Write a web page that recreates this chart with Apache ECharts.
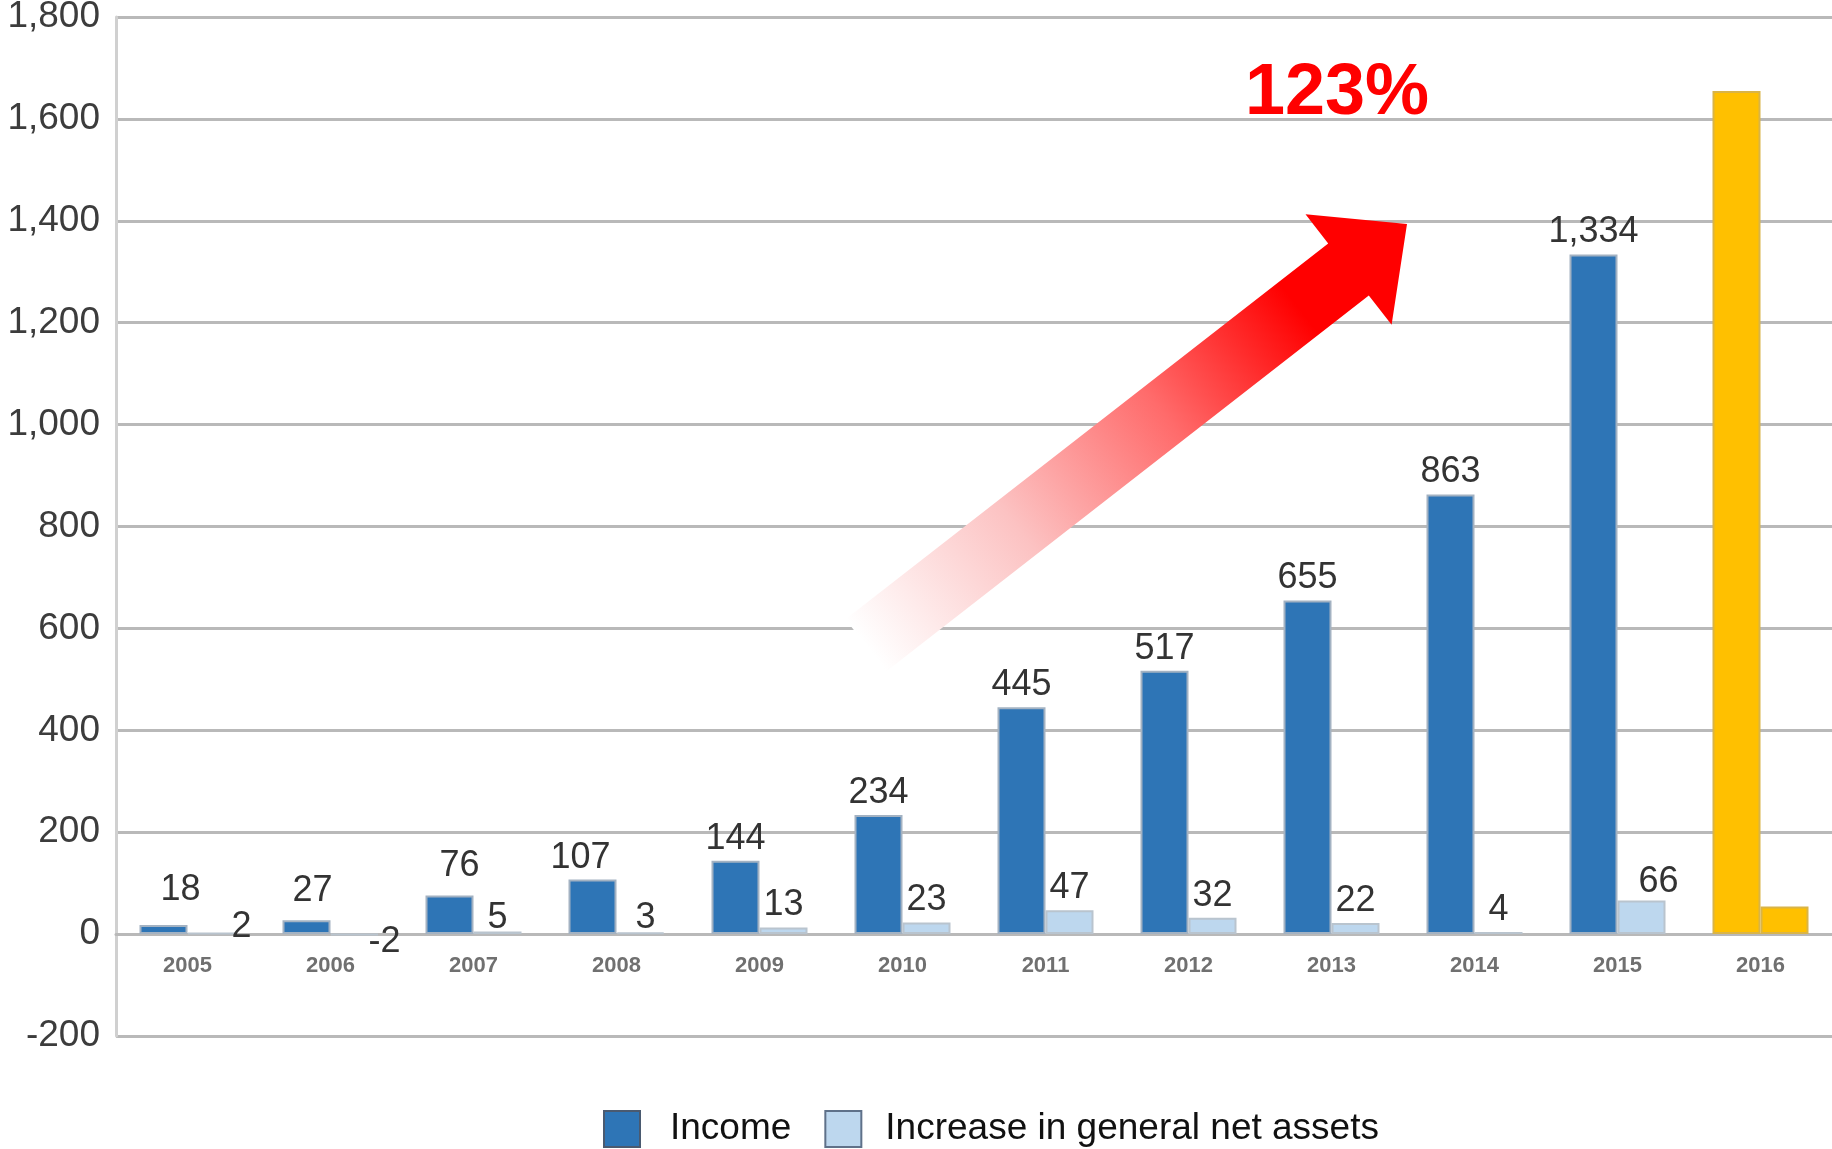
<!DOCTYPE html>
<html>
<head>
<meta charset="utf-8">
<script src="https://cdn.jsdelivr.net/npm/echarts@6/dist/echarts.min.js"></script>
<style>
  html, body { margin: 0; padding: 0; background: #ffffff; }
  #chart { width: 1832px; height: 1149px; }
</style>
</head>
<body>
<div id="chart"></div>
<script>
// ---- data ----
var years = ['2005', '2006', '2007', '2008', '2009', '2010', '2011', '2012', '2013', '2014', '2015', '2016'];
var income = [18, 27, 76, 107, 144, 234, 445, 517, 655, 863, 1334, 1655];
var increase = [2, -2, 5, 3, 13, 23, 47, 32, 22, 4, 66, 54];
var seriesNames = ['Income', 'Increase in general net assets'];
var yTicks = { min: -200, max: 1800, step: 200 };
var growthText = '123%';
var highlightYear = '2016';

// ---- styles / layout ----
var FONT = "'Liberation Sans', Arial, Helvetica, sans-serif";
var BLUE = '#2e75b6', LIGHT = '#bdd7ee', YELLOW = '#ffc000';
var GRID_COLOR = '#b9b9b9';
var GRID = { left: 116, right: 0, top: 17, bottom: 113 };
var CHART_H = 1149;
// hand-placed label nudges [dx, dy] in pixels (style only)
var incomeNudge = { 0: [17, -13], 1: [6, -7], 2: [10, -7], 3: [-12, 0] };
var increaseNudge = { 0: [30, 16], 2: [0, 9], 3: [5, 8], 10: [17, 4] };

function fmt(v) { return echarts.format.addCommas(v); }

var hiIdx = years.indexOf(highlightYear);

function buildData(values, nudges) {
  return values.map(function (v, i) {
    var item = { value: v };
    if (i === hiIdx) {
      item.itemStyle = { color: YELLOW, borderColor: '#d9b447' };
      item.label = { show: false };
      return item;
    }
    var lab = {};
    if (v < 0) {
      lab.position = 'inside';
      lab.offset = [30, 7];
    } else if (nudges[i]) {
      lab.offset = nudges[i];
    }
    item.label = lab;
    return item;
  });
}

var labelStyle = {
  show: true,
  position: 'top',
  distance: 4,
  fontFamily: FONT,
  fontSize: 36,
  color: '#333333',
  formatter: function (p) { return fmt(p.value); }
};

// distance from the bottom edge of the plot up to the zero line
var plotH = CHART_H - GRID.top - GRID.bottom;
var zeroOffset = plotH * (0 - yTicks.min) / (yTicks.max - yTicks.min);

var chart = echarts.init(document.getElementById('chart'), null, { renderer: 'canvas' });

var option = {
  backgroundColor: '#ffffff',
  animation: false,
  grid: { left: GRID.left, right: GRID.right, top: GRID.top, bottom: GRID.bottom, containLabel: false, outerBoundsMode: 'none' },
  xAxis: {
    type: 'category',
    data: years,
    position: 'bottom',
    offset: -zeroOffset,
    axisLine: { show: true, onZero: false, lineStyle: { color: GRID_COLOR, width: 3 } },
    axisTick: { show: false },
    axisLabel: { margin: 21, fontFamily: FONT, fontSize: 22, fontWeight: 'bold', color: '#707070' },
    splitLine: { show: false }
  },
  yAxis: {
    type: 'value',
    min: yTicks.min,
    max: yTicks.max,
    interval: yTicks.step,
    axisLine: { show: true, lineStyle: { color: '#d0d0d0', width: 3 } },
    axisTick: { show: false },
    axisLabel: { margin: 16, fontFamily: FONT, fontSize: 37, color: '#3c3c3c', formatter: fmt },
    splitLine: { show: true, lineStyle: { color: GRID_COLOR, width: 3 } }
  },
  legend: {
    left: 598,
    top: 1105,
    orient: 'horizontal',
    icon: 'rect',
    itemWidth: 36,
    itemHeight: 36,
    itemGap: 33,
    selectedMode: false,
    textStyle: { fontFamily: FONT, fontSize: 37, color: '#111111' },
    data: [
      { name: seriesNames[0], itemStyle: { color: BLUE, borderColor: '#4a5a70', borderWidth: 2 },
        textStyle: { padding: [0, 0, 0, 25] } },
      { name: seriesNames[1], itemStyle: { color: LIGHT, borderColor: '#5f7189', borderWidth: 2 },
        textStyle: { padding: [0, 0, 0, 19] } }
    ]
  },
  series: [
    {
      name: seriesNames[0],
      type: 'bar',
      barWidth: 48,
      barGap: '0%',
      itemStyle: { color: BLUE, borderColor: '#a3b2c2', borderWidth: 2 },
      label: labelStyle,
      data: buildData(income, incomeNudge)
    },
    {
      name: seriesNames[1],
      type: 'bar',
      barWidth: 48,
      barGap: '0%',
      itemStyle: { color: LIGHT, borderColor: '#b9c4ce', borderWidth: 2 },
      label: labelStyle,
      data: buildData(increase, increaseNudge)
    }
  ],
  graphic: [
    {
      type: 'polygon',
      z: 100,
      shape: {
        points: [
          [1407, 224], [1391.6, 324.8], [1368.8, 295.6], [886.1, 671.4],
          [845.5, 619.2], [1328.2, 243.4], [1305.5, 214.2]
        ]
      },
      style: {
        fill: new echarts.graphic.LinearGradient(866, 645, 1407, 224, [
          { offset: 0, color: '#ffffff' },
          { offset: 0.28, color: '#fcc2c2' },
          { offset: 0.55, color: '#ff6b6b' },
          { offset: 0.8, color: '#ff0000' },
          { offset: 1, color: '#ff0000' }
        ], true)
      }
    },
    {
      type: 'text',
      z: 100,
      x: 1337,
      y: 94,
      style: {
        text: growthText,
        fill: '#ff0000',
        font: "bold 72px 'Liberation Sans', Arial, sans-serif",
        align: 'center',
        verticalAlign: 'middle'
      }
    }
  ]
};

chart.setOption(option);
</script>
</body>
</html>
